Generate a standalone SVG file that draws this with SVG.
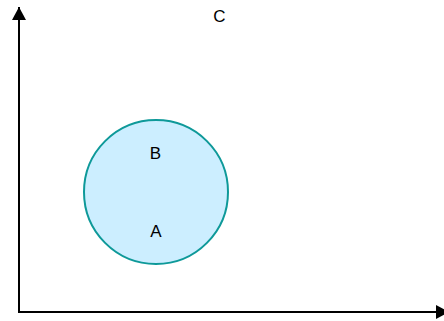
<svg xmlns="http://www.w3.org/2000/svg" width="444" height="321" viewBox="0 0 444 321">
<style>
.lbl{font-family:"Liberation Sans",Arial,sans-serif;font-size:17px;fill:#000;text-anchor:middle;dominant-baseline:central}
.axis{stroke:#000;stroke-width:2;fill:none}
</style>
<defs>
<marker id="arr" markerWidth="13" markerHeight="14" refX="13" refY="7" orient="auto" markerUnits="userSpaceOnUse" viewBox="0 0 13 14">
<path d="M0,0 L13,7 L0,14 Z" fill="#000"/>
</marker>
</defs>
<rect width="444" height="321" fill="#fff"/>
<g id="connectors">
<path class="axis" d="M19,312 L19,7" marker-end="url(#arr)"/>
<path class="axis" d="M18,312 L449,312" marker-end="url(#arr)"/>
</g>
<g id="circle">
<circle cx="156" cy="192" r="72" fill="#cceeff" stroke="#0e9999" stroke-width="2"/>
<text class="lbl" x="155.5" y="153.5">B</text>
<text class="lbl" x="156" y="231.5">A</text>
</g>
<g id="labelC">
<text class="lbl" x="219.5" y="16">C</text>
</g>
</svg>
